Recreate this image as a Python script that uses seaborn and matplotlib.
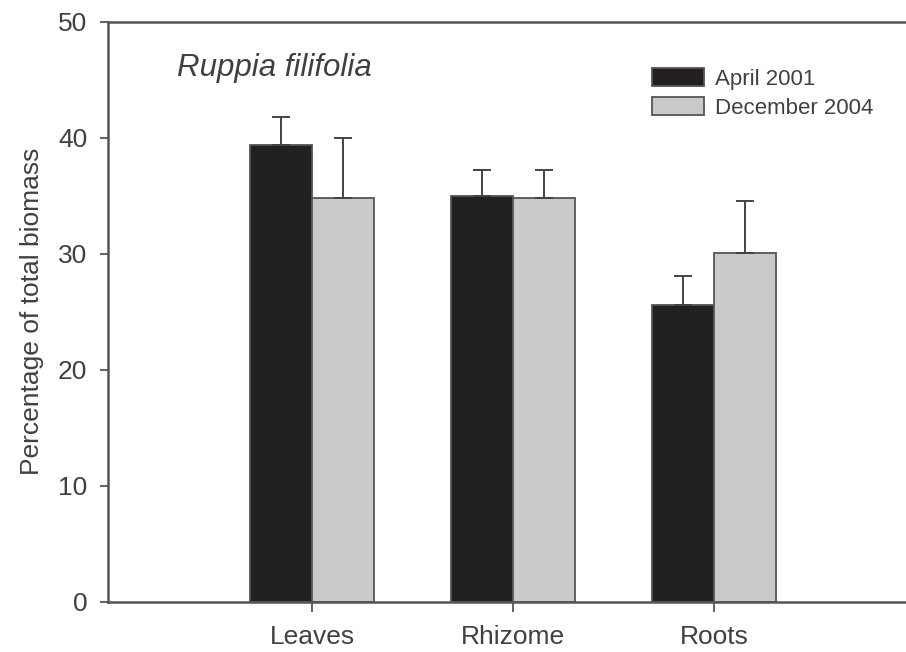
import matplotlib
matplotlib.use("Agg")
import matplotlib.pyplot as plt
import seaborn as sns
import pandas as pd
import numpy as np
from matplotlib.patches import Patch

categories = ["Leaves", "Rhizome", "Roots"]
series = ["April 2001", "December 2004"]
april_2001 = [39.4, 35.0, 25.6]
april_2001_err = [2.4, 2.2, 2.5]
december_2004 = [34.8, 34.8, 30.1]
december_2004_err = [5.2, 2.4, 4.4]
yticks = [0, 10, 20, 30, 40, 50]

sns.set_theme(style="white")
plt.rcParams['font.family'] = ['Liberation Sans', 'DejaVu Sans']

TXT = "#404040"
SP = "#555555"
colors = ["#231f20", "#c9cacc"]

df = pd.DataFrame({
    "part": categories * 2,
    "period": [series[0]] * 3 + [series[1]] * 3,
    "value": april_2001 + december_2004,
    "err": april_2001_err + december_2004_err,
})

fig = plt.figure(figsize=(9.06, 6.52), dpi=100)
ax = fig.add_axes([108 / 906, 50.3 / 652, 1 - 108 / 906, 580 / 652])

sns.barplot(data=df, x="part", y="value", hue="period", order=categories,
            hue_order=series, palette=colors, width=0.616, gap=0,
            edgecolor=SP, linewidth=1.3, errorbar=None, legend=False, ax=ax)

# upward-only error bars placed at the bar centres
bars = [p for p in ax.patches]
for i, s in enumerate(series):
    sub = df[df.period == s]
    for j, cat in enumerate(categories):
        p = bars[i * len(categories) + j]
        xc = p.get_x() + p.get_width() / 2
        v = sub.value.values[j]
        e = sub.err.values[j]
        ax.errorbar([xc], [v], yerr=[[0], [e]], fmt="none", ecolor="#444444",
                    elinewidth=1.4, capsize=6.5, capthick=1.4, zorder=1)

ax.set_xlim(-1.015, 2.955)
ax.set_ylim(0, 50)
ax.set_yticks(yticks)
ax.set_xlabel("")
ax.set_ylabel("Percentage of total biomass", fontsize=19, color=TXT, labelpad=10)

for side in ["left", "bottom", "top"]:
    ax.spines[side].set_visible(True)
    ax.spines[side].set_color(SP)
    ax.spines[side].set_linewidth(1.8)
ax.spines["right"].set_visible(False)

ax.tick_params(axis="y", direction="out", length=6, width=1.3, color=SP,
               labelsize=19, labelcolor=TXT, pad=9, left=True)
ax.tick_params(axis="x", direction="out", length=7, width=1.3, color=SP,
               labelsize=19, labelcolor=TXT, pad=10, bottom=True)

ax.text(0.086, 0.921, "Ruppia filifolia", transform=ax.transAxes,
        fontsize=22.5, fontstyle="italic", color=TXT, va="center", ha="left")

handles = [Patch(facecolor=colors[0], edgecolor=SP, linewidth=1.3),
           Patch(facecolor=colors[1], edgecolor=SP, linewidth=1.3)]
leg = ax.legend(handles, series, loc="upper left",
                bbox_to_anchor=((652 - 108) / 798, (601.7 - 68) / 580),
                frameon=False, fontsize=16, handlelength=2.35, handleheight=0.85,
                handletextpad=0.5, labelspacing=0.35, borderaxespad=0, borderpad=0)
for t in leg.get_texts():
    t.set_color(TXT)

fig.savefig("out.png", dpi=100)
